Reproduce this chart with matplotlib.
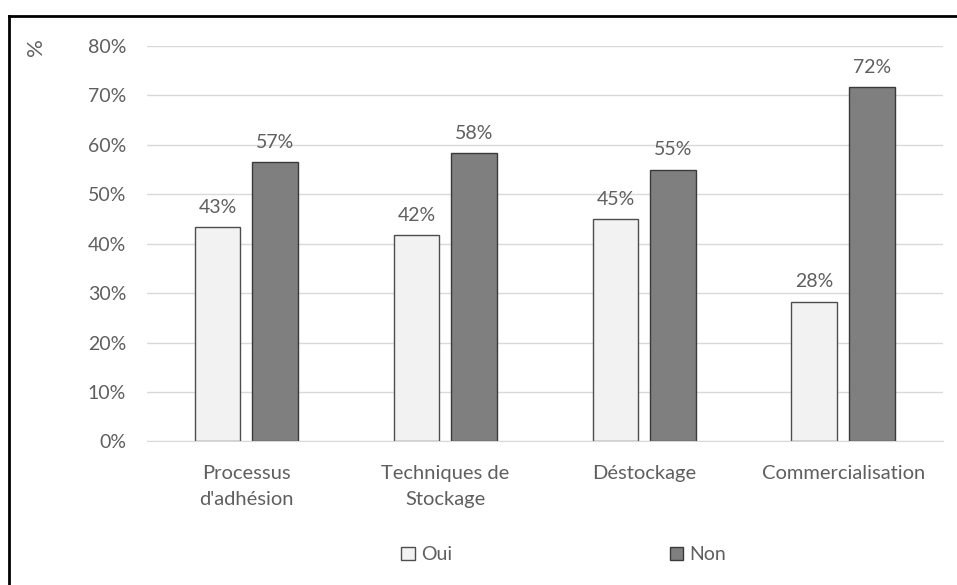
import numpy as np
import matplotlib
matplotlib.use('Agg')
from matplotlib import pyplot as plt
from matplotlib.lines import Line2D

# Police et couleurs du graphique
plt.rcParams['font.family'] = ['Lato', 'DejaVu Sans']
plt.rcParams['font.size'] = 14
txt_color = '#5f5f5f'

categories = ["Processus\nd'adhésion", "Techniques de\nStockage", "Déstockage", "Commercialisation"]
oui = [43.4, 41.7, 45.0, 28.3]
non = [56.6, 58.3, 55.0, 71.7]
yticks = [0, 10, 20, 30, 40, 50, 60, 70, 80]

fig = plt.figure(figsize=(9.57, 5.85), dpi=100)
ax = fig.add_axes([0.1536, 0.2453, 0.8314, 0.6761])

x = np.arange(len(categories))
w = 0.23
b1 = ax.bar(x - 0.145, oui, w, color='#f2f2f2', edgecolor='#4d4d4d', linewidth=1, label='Oui', zorder=3)
b2 = ax.bar(x + 0.145, non, w, color='#7f7f7f', edgecolor='#3a3a3a', linewidth=1, label='Non', zorder=3)

for bars, vals in ((b1, oui), (b2, non)):
    ax.bar_label(bars, labels=['%.0f%%' % v for v in vals], padding=8, color=txt_color, fontsize=14)

ax.set_xlim(-0.5, len(categories) - 0.5)
ax.set_ylim(0, 80)
ax.set_yticks(yticks)
ax.set_yticklabels(['%d%%' % t for t in yticks])
ax.set_xticks(x)
ax.set_xticklabels(categories, linespacing=1.65)
ax.tick_params(axis='y', length=0, pad=15, colors=txt_color, labelsize=14)
ax.tick_params(axis='x', length=0, pad=17, colors=txt_color, labelsize=14.5)

ax.grid(axis='y', color='#d9d9d9', linewidth=1, zorder=0)
for side in ('top', 'right', 'left'):
    ax.spines[side].set_visible(False)
ax.spines['bottom'].set_color('#d9d9d9')
ax.spines['bottom'].set_zorder(4)

fig.text(36 / 957, 1 - 47 / 585, '%', rotation=90, ha='center', va='center',
         color=txt_color, fontsize=16)

fig.legend(handles=[b1, b2], loc='center', bbox_to_anchor=(0.589, 0.0513), ncol=2,
           frameon=False, handlelength=0.7, handleheight=0.7, handletextpad=0.3,
           columnspacing=11.2, labelcolor=txt_color, fontsize=14)

# cadre : trait en haut et a gauche
fig.add_artist(Line2D([9 / 957, 1], [1 - 16 / 585, 1 - 16 / 585], color='black', lw=2, transform=fig.transFigure))
fig.add_artist(Line2D([9 / 957, 9 / 957], [0, 1 - 16 / 585], color='black', lw=2, transform=fig.transFigure))

fig.savefig('out.png', dpi=100)
